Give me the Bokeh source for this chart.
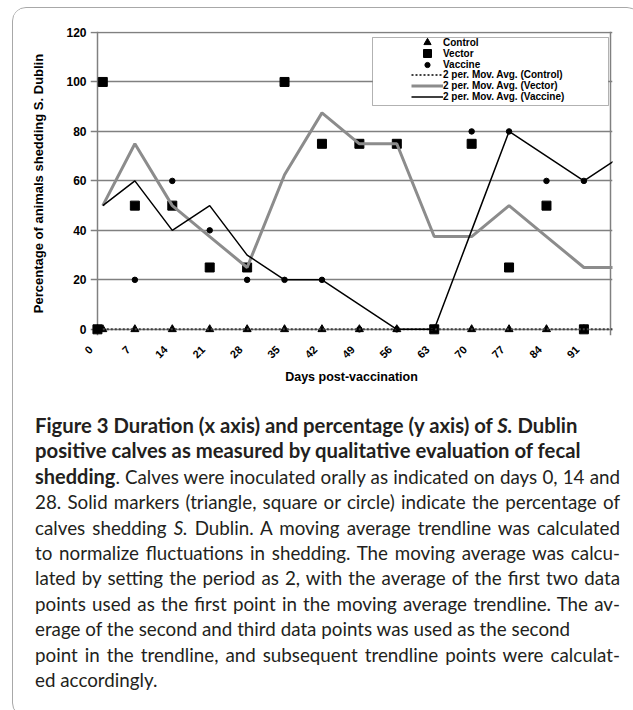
from math import pi
from bokeh.plotting import figure
from bokeh.models import Range1d, FixedTicker, Legend, LegendItem, BoxAnnotation, Div
from bokeh.layouts import column
from bokeh.embed import file_html
from bokeh.resources import INLINE

# ---------------- data ----------------
days = [0, 1, 7, 14, 21, 28, 35, 42, 49, 56, 63, 70, 77, 84, 91, 98]
control = [0, 0, 0, 0, 0, 0, 0, 0, 0, 0, 0, 0, 0, 0, 0, 0]
vector = [0, 100, 50, 50, 25, 25, 100, 75, 75, 75, 0, 75, 25, 50, 0, 50]
vaccine = [0, 100, 20, 60, 40, 20, 20, 20, 0, 0, 0, 80, 80, 60, 60, 80]
x_ticks = [0, 7, 14, 21, 28, 35, 42, 49, 56, 63, 70, 77, 84, 91]
y_ticks = [0, 20, 40, 60, 80, 100, 120]
x_max = 96


def mov_avg(values, period=2):
    """Excel-style 'n per. Mov. Avg.' trendline."""
    return [sum(values[i - period + 1:i + 1]) / period for i in range(period - 1, len(values))]


ma_days = days[1:]

FONT = "Liberation Sans"
X0, X1 = -1.3, x_max + 0.35
LABEL_SHIFT = 1.25   # Excel draws the rotated day labels slightly left of their ticks

p = figure(width=617, height=387,
           x_range=Range1d(X0, X1), y_range=Range1d(-2.5, 120.4),
           output_backend="svg", toolbar_location=None,
           min_border_left=77, min_border_right=18, min_border_top=23, min_border_bottom=60)
p.outline_line_color = None
p.extra_x_ranges = {"labels": Range1d(X0 + LABEL_SHIFT, X1 + LABEL_SHIFT)}
p.xaxis[0].x_range_name = "labels"

# grid lines (act as axis lines / plot border like the Excel chart)
p.ygrid.ticker = FixedTicker(ticks=y_ticks)
p.ygrid.grid_line_color = "#808080"
p.ygrid.grid_line_width = 1.5
p.xgrid.ticker = FixedTicker(ticks=[0, x_max])
p.xgrid.grid_line_color = "#808080"
p.xgrid.grid_line_width = 1.5

for ax in (p.xaxis[0], p.yaxis[0]):
    ax.axis_line_color = None
    ax.major_tick_line_color = None
    ax.minor_tick_line_color = None
    ax.major_tick_out = 0
    ax.major_tick_in = 0
    ax.minor_tick_out = 0
    ax.minor_tick_in = 0
    ax.major_label_text_font = FONT
    ax.major_label_text_font_style = "bold"
    ax.major_label_text_color = "black"
    ax.axis_label_text_font = FONT
    ax.axis_label_text_font_style = "bold"
    ax.axis_label_text_color = "black"

p.xaxis.ticker = FixedTicker(ticks=x_ticks)
p.xaxis.major_label_orientation = pi / 4
p.xaxis.major_label_text_font_size = "11px"
p.xaxis.major_label_standoff = 12
p.xaxis.axis_label = "Days post-vaccination"
p.xaxis.axis_label_text_font_size = "12.5px"
p.xaxis.axis_label_standoff = 5

p.yaxis.ticker = FixedTicker(ticks=y_ticks)
p.yaxis.major_label_text_font_size = "12px"
p.yaxis.major_label_standoff = 4
p.yaxis.axis_label = "Percentage of animals shedding S. Dublin"
p.yaxis.axis_label_text_font_size = "13px"
p.yaxis.axis_label_standoff = 17

# markers
r_ctrl = p.scatter(days, control, marker="triangle", size=8, color="black")
r_vec = p.scatter(days, vector, marker="square", size=9, color="black")
r_vac = p.scatter(days, vaccine, marker="circle", size=5.5, color="black")

# 2-period moving average trendlines
l_ctrl = p.line(ma_days, mov_avg(control), color="#404040", line_width=2, line_dash="2 2")
l_vec = p.line(ma_days, mov_avg(vector), color="#8c8c8c", line_width=3)
l_vac = p.line(ma_days, mov_avg(vaccine), color="black", line_width=1.5)

# legend frame
box = BoxAnnotation(left=359, right=595, top=29, bottom=97,
                    left_units="canvas", right_units="canvas",
                    top_units="canvas", bottom_units="canvas",
                    fill_color="white", fill_alpha=1.0,
                    line_color="black", line_width=1)
p.add_layout(box)

LEG_X = 411 - 13 - 77   # glyph column start, relative to the plot frame


def make_legend(items, loc, glyph_height, label_height):
    lg = Legend(items=items, location=loc)
    lg.padding = 0
    lg.margin = 0
    lg.spacing = 0
    lg.glyph_width = 32
    lg.glyph_height = glyph_height
    lg.label_height = label_height
    lg.label_standoff = 0
    lg.label_text_font = FONT
    lg.label_text_font_style = "bold"
    lg.label_text_font_size = "10px"
    lg.label_text_color = "black"
    lg.background_fill_alpha = 0
    lg.border_line_color = None
    return lg


# marker entries (one legend each so each marker gets its own size)
p.add_layout(make_legend([LegendItem(label="Control", renderers=[r_ctrl])], (LEG_X, 284), 18, 10))
p.add_layout(make_legend([LegendItem(label="Vector", renderers=[r_vec])], (LEG_X, 272), 20, 10))
p.add_layout(make_legend([LegendItem(label="Vaccine", renderers=[r_vac])], (LEG_X, 264.5), 13, 10))
# trendline entries
p.add_layout(make_legend([
    LegendItem(label="2 per. Mov. Avg. (Control)", renderers=[l_ctrl]),
    LegendItem(label="2 per. Mov. Avg. (Vector)", renderers=[l_vec]),
    LegendItem(label="2 per. Mov. Avg. (Vaccine)", renderers=[l_vac]),
], (LEG_X, 233.5), 11, 11))

J = "white-space: nowrap; text-align: justify; text-align-last: justify; word-spacing: -2px;"
N = "white-space: nowrap;"
B = "white-space: nowrap; font-weight: bold; font-size: 20.3px;"
caption_html = f"""
<div style="font-family: Lato; font-size: 18.8px; line-height: 25.4px; color: #231f20;
            padding: 13px 15px 0 17px; width: 617px; box-sizing: border-box;">
<div style="{B}">Figure 3 Duration (x axis) and percentage (y axis) of <i>S.</i> Dublin</div>
<div style="{B}">positive calves as measured by qualitative evaluation of fecal</div>
<div style="{J}"><b style="font-size: 20px;">shedding</b>. Calves were inoculated orally as indicated on days 0, 14 and</div>
<div style="{J}">28. Solid markers (triangle, square or circle) indicate the percentage of</div>
<div style="{J}">calves shedding <i>S.</i> Dublin. A moving average trendline was calculated</div>
<div style="{J}">to normalize fluctuations in shedding. The moving average was calcu-</div>
<div style="{J}">lated by setting the period as 2, with the average of the first two data</div>
<div style="{J}">points used as the first point in the moving average trendline. The av-</div>
<div style="{N}">erage of the second and third data points was used as the second</div>
<div style="{J}">point in the trendline, and subsequent trendline points were calculat-</div>
<div style="{N}">ed accordingly.</div>
</div>
"""
caption = Div(text=caption_html, width=617, height=311)

layout = column(p, caption, margin=(7, 0, 0, 12),
                styles={"border": "1px solid #a8a8a8", "border-radius": "14px",
                        "overflow": "hidden"})

open("out.html", "w").write(file_html(layout, INLINE))
